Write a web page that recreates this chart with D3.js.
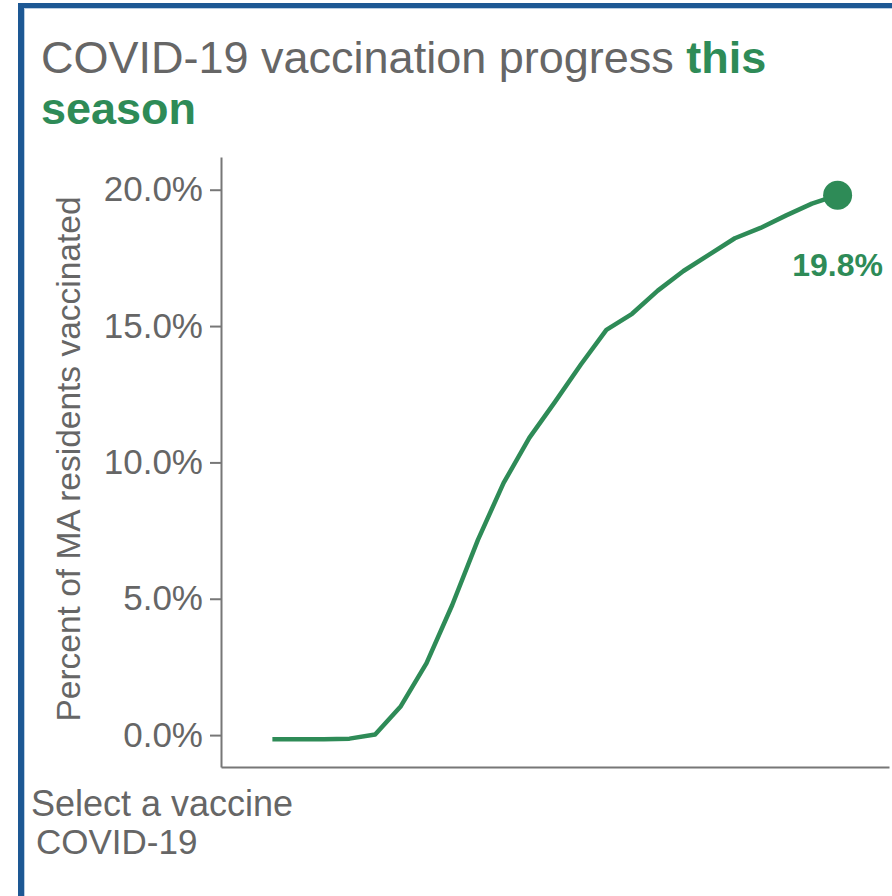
<!DOCTYPE html>
<html>
<head>
<meta charset="utf-8">
<script src="https://cdn.jsdelivr.net/npm/d3@7"></script>
<style>
  body { margin: 0; background: #fff; overflow: hidden; }
  #frame {
    position: absolute; left: 18px; top: 3px; width: 900px; height: 920px;
    border-top: 5px solid #1d5894; border-left: 6px solid #1d5894;
    box-shadow: inset 1px 1px 0 #b9cde2;
  }
  #chart { position: absolute; left: 0; top: 0; }
  text { font-family: "Liberation Sans", Arial, sans-serif; }
</style>
</head>
<body>
<div id="frame"></div>
<div id="chart"></div>
<script>
// weekly cumulative % of MA residents vaccinated (COVID-19, this season)
const weeks = [1, 2, 3, 4, 5, 6, 7, 8, 9, 10, 11, 12, 13, 14, 15, 16, 17, 18, 19, 20, 21, 22, 23];
const pctVaccinated = [-0.15, -0.15, -0.15, -0.13, 0.02, 1.06, 2.64, 4.77, 7.16, 9.25, 10.9, 12.22,
  13.58, 14.86, 15.45, 16.3, 17.02, 17.62, 18.22, 18.6, 19.06, 19.49, 19.8];
const yTicks = [0, 5, 10, 15, 20];

const width = 892, height = 896;
const green = "#2e8b57", grey = "#666";

const svg = d3.select("#chart").append("svg")
  .attr("width", width)
  .attr("height", height);

const x = d3.scaleLinear().domain([-1, 25]).range([221, 889]);
const y = d3.scaleLinear().domain([-1.17, 21.2]).range([767, 157]);

// title
const title = svg.append("text")
  .attr("x", 41)
  .attr("y", 73)
  .style("font-size", "45px")
  .attr("fill", grey);
title.append("tspan").text("COVID-19 vaccination progress ");
title.append("tspan").attr("font-weight", "bold").attr("fill", green).text("this");
svg.append("text")
  .attr("x", 41)
  .attr("y", 124)
  .style("font-size", "45px")
  .attr("font-weight", "bold")
  .attr("fill", green)
  .text("season");

// axes
const yAxis = svg.append("g")
  .attr("transform", `translate(221,0)`)
  .call(d3.axisLeft(y).tickValues(yTicks).tickSize(11).tickSizeOuter(0).tickPadding(7)
    .tickFormat(d => d.toFixed(1) + "%"));
yAxis.selectAll("text")
  .style("font-size", "35px")
  .style("font-family", "'Liberation Sans', Arial, sans-serif")
  .attr("fill", grey);

const xAxis = svg.append("g")
  .attr("transform", `translate(0,767)`)
  .call(d3.axisBottom(x).tickValues([]).tickSizeOuter(0));

svg.selectAll(".domain, .tick line")
  .attr("stroke", "#777")
  .attr("stroke-width", 2);

svg.append("text")
  .attr("transform", "translate(80,459) rotate(-90)")
  .attr("text-anchor", "middle")
  .style("font-size", "33.5px")
  .attr("fill", grey)
  .text("Percent of MA residents vaccinated");

// line
const line = d3.line()
  .x((d, i) => x(weeks[i]))
  .y(d => y(d));

svg.append("path")
  .datum(pctVaccinated)
  .attr("fill", "none")
  .attr("stroke", green)
  .attr("stroke-width", 4.5)
  .attr("stroke-linejoin", "round")
  .attr("d", line);

const last = pctVaccinated.length - 1;
svg.append("circle")
  .attr("cx", x(weeks[last]))
  .attr("cy", y(pctVaccinated[last]))
  .attr("r", 14.5)
  .attr("fill", green);

svg.append("text")
  .attr("x", x(weeks[last]))
  .attr("y", y(pctVaccinated[last]) + 81)
  .attr("text-anchor", "middle")
  .style("font-size", "32px")
  .attr("font-weight", "bold")
  .attr("fill", green)
  .text(pctVaccinated[last].toFixed(1) + "%");

// vaccine selector label
svg.append("text")
  .attr("x", 31)
  .attr("y", 816)
  .style("font-size", "36px")
  .attr("fill", grey)
  .text("Select a vaccine");
svg.append("text")
  .attr("x", 36)
  .attr("y", 854)
  .style("font-size", "35px")
  .attr("fill", grey)
  .text("COVID-19");
</script>
</body>
</html>
